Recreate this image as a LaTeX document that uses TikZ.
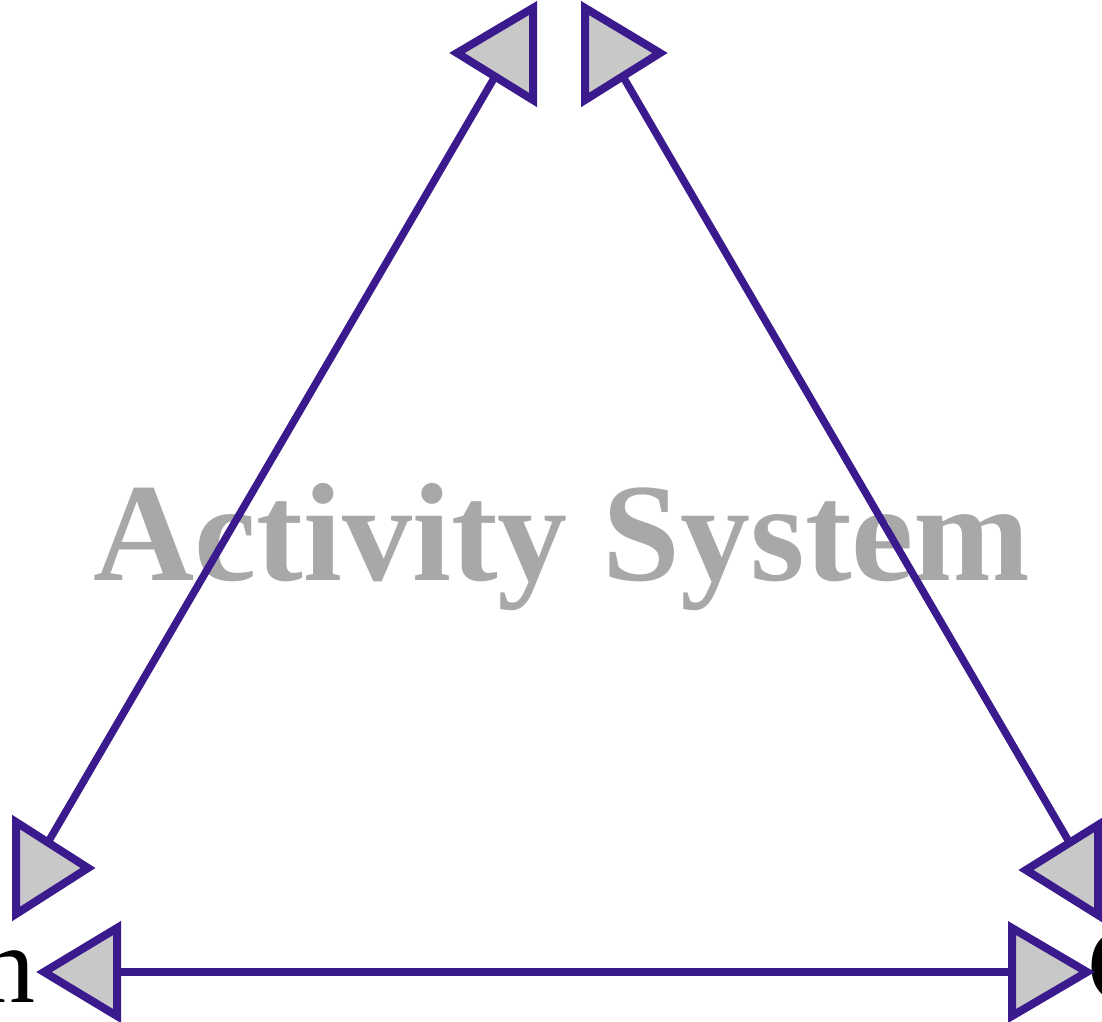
\documentclass[tikz,border=0pt]{standalone}
\usepackage{fontspec}
\setmainfont{Liberation Serif}
\definecolor{linkpurple}{RGB}{58,26,140}
\definecolor{headfill}{RGB}{200,200,200}
\definecolor{titlegray}{RGB}{168,168,168}
\tikzset{
  link/.style={draw=linkpurple, line width=7.5pt},
  headtri/.style={draw=linkpurple, fill=headfill, line width=8pt, line join=miter},
  title/.style={inner sep=0pt, anchor=base, text=titlegray, font=\fontsize{140}{140}\selectfont\bfseries},
  edge label/.style={inner sep=0pt, text=black, font=\fontsize{110}{110}\selectfont}
}
\begin{document}
\begin{tikzpicture}[x=1pt,y=-1pt]
\useasboundingbox (0,0) rectangle (1102,1021);
% watermark title
\node[title] (title) at (562,580) {Activity System};
% partially visible corner labels
\node[edge label, anchor=base east] (leftlabel) at (36,1002) {n};
\node[edge label, anchor=base west] (rightlabel) at (1087,1002) {C};
% connector end points (inside the arrowheads)
\coordinate (topL) at (500,68);
\coordinate (botL) at (40,856);
\coordinate (topR) at (618,68);
\coordinate (botR) at (1075,852);
\coordinate (baseL) at (100,972);
\coordinate (baseR) at (1030,972);
% connectors
\draw[link] (topL) -- (botL);
\draw[link] (topR) -- (botR);
\draw[link] (baseL) -- (baseR);
% arrowheads
\draw[headtri] (533,8) -- (533,100) -- (457,53) -- cycle;
\draw[headtri] (585,8) -- (585,100) -- (660,53) -- cycle;
\draw[headtri] (16,822) -- (16,914) -- (88,868) -- cycle;
\draw[headtri] (1098,825) -- (1098,915) -- (1026,870) -- cycle;
\draw[headtri] (117,928) -- (117,1016) -- (44,972) -- cycle;
\draw[headtri] (1012,928) -- (1012,1016) -- (1087,972) -- cycle;
\end{tikzpicture}
\end{document}
